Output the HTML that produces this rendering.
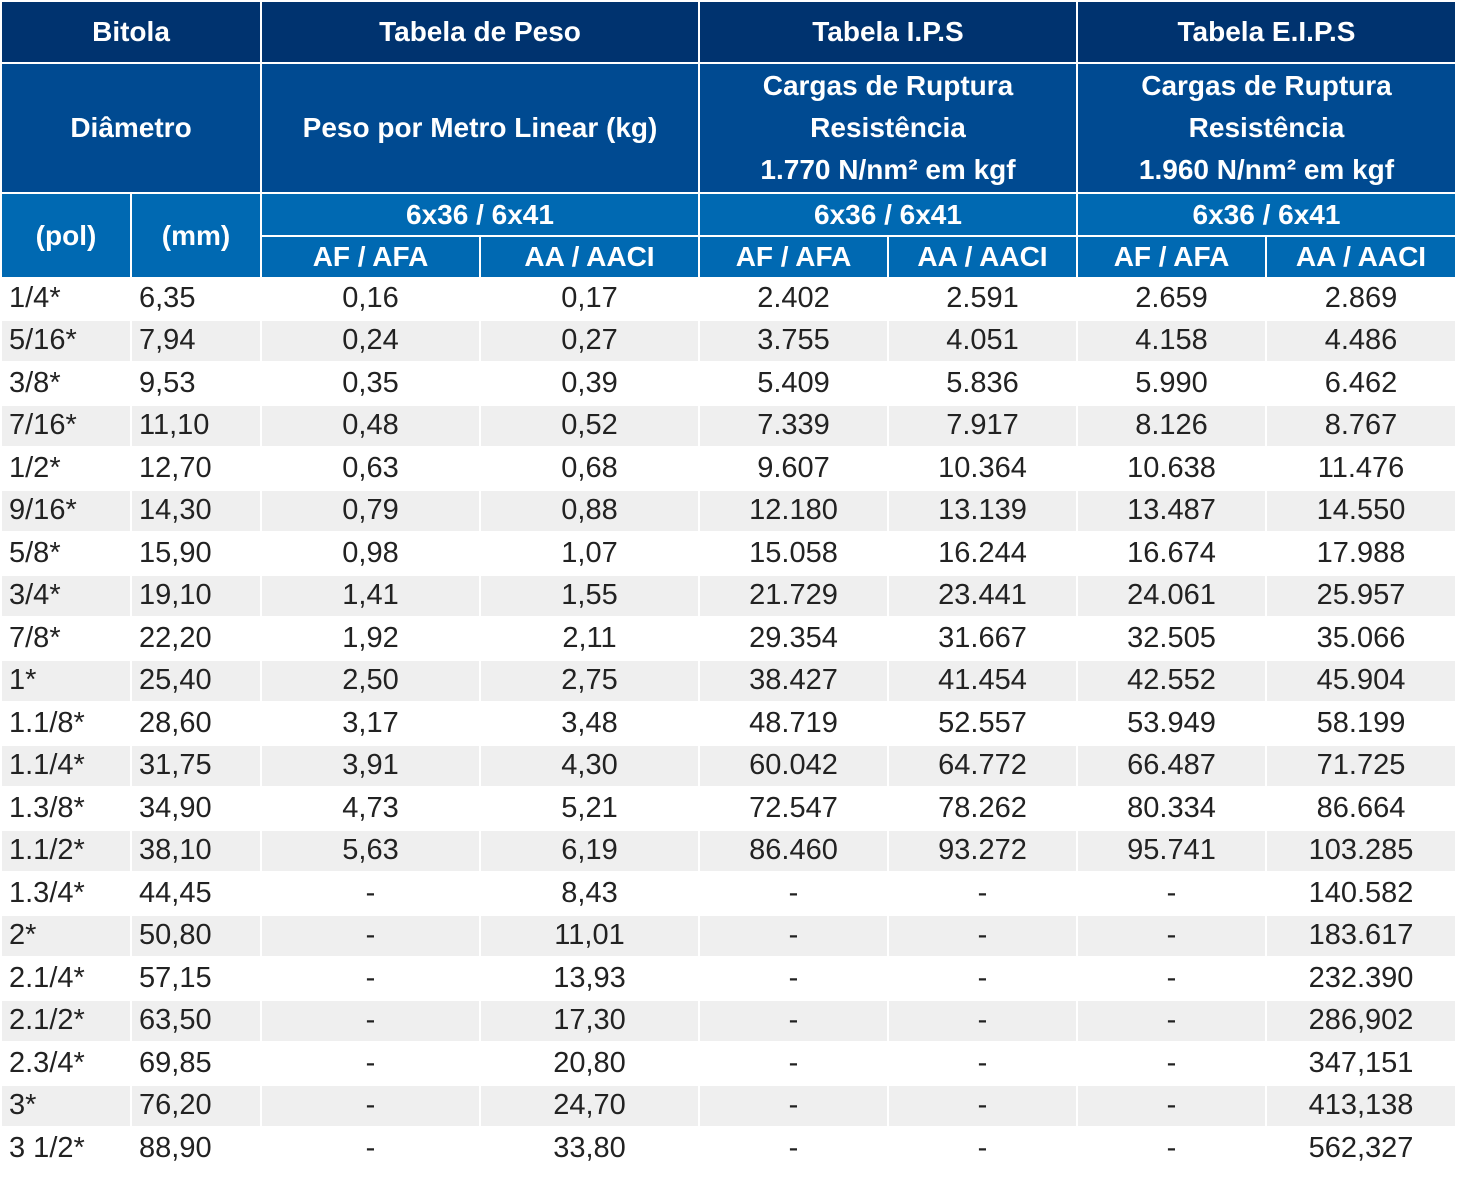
<!DOCTYPE html>
<html><head><meta charset="utf-8"><style>
body{margin:0;width:1463px;height:1179px;background:#fff;position:relative;overflow:hidden;font-family:"Liberation Sans",sans-serif}
.c{position:absolute;display:flex;align-items:center;justify-content:center;text-align:center;box-sizing:border-box}
.h{color:#fff;font-weight:bold;font-size:28px;line-height:42px}
.d{color:#222;font-size:29px}
.l{justify-content:flex-start;padding-left:7px}
</style></head><body>
<div id="t"></div>
<script>
const X=[2,132,262,481,700,889,1078,1267,1457];
const rows=[
["1/4*","6,35","0,16","0,17","2.402","2.591","2.659","2.869"],
["5/16*","7,94","0,24","0,27","3.755","4.051","4.158","4.486"],
["3/8*","9,53","0,35","0,39","5.409","5.836","5.990","6.462"],
["7/16*","11,10","0,48","0,52","7.339","7.917","8.126","8.767"],
["1/2*","12,70","0,63","0,68","9.607","10.364","10.638","11.476"],
["9/16*","14,30","0,79","0,88","12.180","13.139","13.487","14.550"],
["5/8*","15,90","0,98","1,07","15.058","16.244","16.674","17.988"],
["3/4*","19,10","1,41","1,55","21.729","23.441","24.061","25.957"],
["7/8*","22,20","1,92","2,11","29.354","31.667","32.505","35.066"],
["1*","25,40","2,50","2,75","38.427","41.454","42.552","45.904"],
["1.1/8*","28,60","3,17","3,48","48.719","52.557","53.949","58.199"],
["1.1/4*","31,75","3,91","4,30","60.042","64.772","66.487","71.725"],
["1.3/8*","34,90","4,73","5,21","72.547","78.262","80.334","86.664"],
["1.1/2*","38,10","5,63","6,19","86.460","93.272","95.741","103.285"],
["1.3/4*","44,45","-","8,43","-","-","-","140.582"],
["2*","50,80","-","11,01","-","-","-","183.617"],
["2.1/4*","57,15","-","13,93","-","-","-","232.390"],
["2.1/2*","63,50","-","17,30","-","-","-","286,902"],
["2.3/4*","69,85","-","20,80","-","-","-","347,151"],
["3*","76,20","-","24,70","-","-","-","413,138"],
["3 1/2*","88,90","-","33,80","-","-","-","562,327"]];
const t=document.getElementById('t');
function cell(c0,c1,y0,y1,txt,bg,cls,name){
 const d=document.createElement('div');
 d.className='c '+cls;
 d.style.left=X[c0]+'px';d.style.width=(X[c1]-X[c0]-2)+'px';
 d.style.top=y0+'px';d.style.height=(y1-y0)+'px';
 d.style.background=bg;d.innerHTML=txt;
 
 
 t.appendChild(d);
}
const A='#00336f',B='#004a91',C='#0069b2';
cell(0,2,2,62,'Bitola',A,'h','header-bitola');
cell(2,4,2,62,'Tabela de Peso',A,'h','header-tabela-peso');
cell(4,6,2,62,'Tabela I.P.S',A,'h','header-tabela-ips');
cell(6,8,2,62,'Tabela E.I.P.S',A,'h','header-tabela-eips');
cell(0,2,64,192,'Diâmetro',B,'h','header-diametro');
cell(2,4,64,192,'Peso por Metro Linear (kg)',B,'h','header-peso-metro');
cell(4,6,64,192,'Cargas de Ruptura<br>Resistência<br>1.770 N/nm² em kgf',B,'h','header-cargas-ips');
cell(6,8,64,192,'Cargas de Ruptura<br>Resistência<br>1.960 N/nm² em kgf',B,'h','header-cargas-eips');
cell(0,1,194,277,'(pol)',C,'h','header-pol');
cell(1,2,194,277,'(mm)',C,'h','header-mm');
[2,4,6].forEach(c=>cell(c,c+2,194,235,'6x36 / 6x41',C,'h','header-6x36'));
[2,4,6].forEach(c=>{cell(c,c+1,237,277,'AF / AFA',C,'h','header-af-afa');cell(c+1,c+2,237,277,'AA / AACI',C,'h','header-aa-aaci');});
rows.forEach((r,i)=>{
 const y=278+i*42.5,bg=i%2?'#efefef':'#fff';
 r.forEach((v,j)=>cell(j,j+1,y,y+40.5,v,bg,'d'+(j<2?' l':''),'data-cell'));
});
</script>
</body></html>
